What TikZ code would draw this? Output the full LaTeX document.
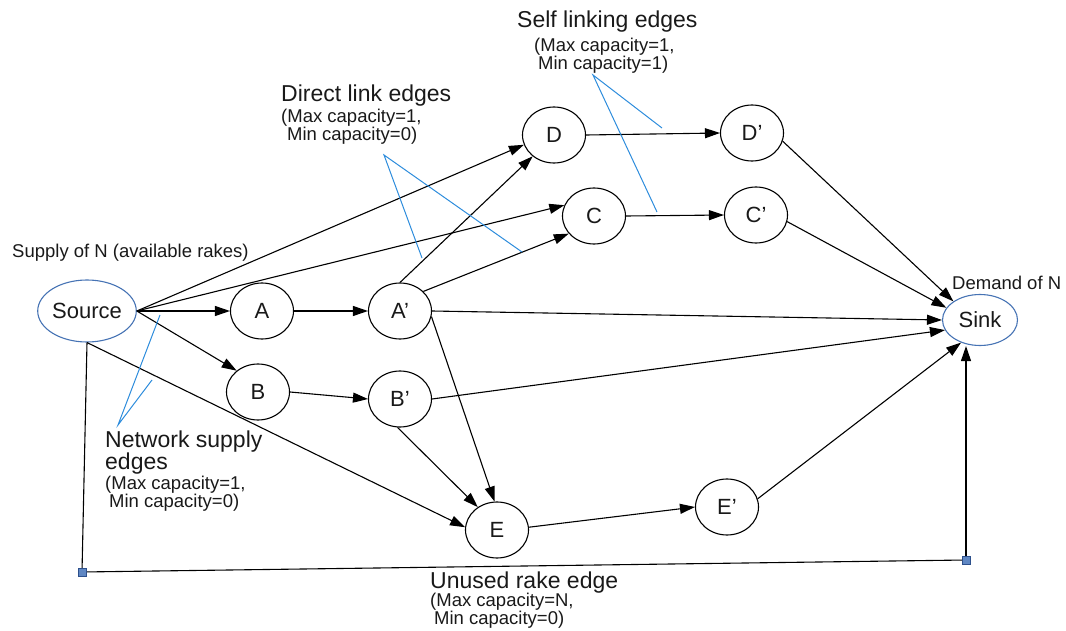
\documentclass[tikz,border=0pt]{standalone}
\usepackage{fontspec}
\setmainfont{Liberation Sans}
\usetikzlibrary{arrows.meta,shapes.geometric}
\definecolor{ink}{RGB}{25,25,25}
\definecolor{calloutblue}{RGB}{45,140,220}
\definecolor{termblue}{RGB}{70,115,180}
\definecolor{jointfill}{RGB}{95,135,195}
\definecolor{jointdraw}{RGB}{45,80,140}
\begin{document}
\begin{tikzpicture}[x=1pt,y=-1pt,
  vtx/.style={ellipse,draw=black,line width=1.1pt,inner sep=0pt,
    minimum width=63pt,minimum height=56pt,text=ink,
    font=\fontsize{22}{22}\selectfont},
  term/.style={vtx,draw=termblue},
  flow/.style={line width=1.1pt,draw=black,-{Triangle[length=15pt,width=10pt]}},
  plain/.style={line width=1.1pt,draw=black},
  callout/.style={draw=calloutblue,line width=1pt},
  head/.style={anchor=base west,inner sep=0pt,text=ink,align=left,
    font=\fontsize{23}{22}\selectfont},
  sub/.style={anchor=base west,inner sep=0pt,text=ink,align=left,
    font=\fontsize{18.5}{17}\selectfont},
  joint/.style={rectangle,draw=jointdraw,fill=jointfill,line width=0.8pt,
    minimum size=8pt,inner sep=0pt}
]
\useasboundingbox (0,0) rectangle (1066,631);

% vertices
\node[term,minimum width=80pt,minimum height=62pt] (S) at (87,311) {Source};
\node[vtx] (A)  at (262,311) {A};
\node[vtx] (Ap) at (400,311) {A'};
\node[vtx] (B)  at (258,392) {B};
\node[vtx] (Bp) at (400,399) {B'};
\node[vtx] (D)  at (554,135) {D};
\node[vtx] (C)  at (594,216) {C};
\node[vtx] (Dp) at (752,133) {D'};
\node[vtx] (Cp) at (756,215) {C'};
\node[vtx] (E)  at (497,530) {E};
\node[vtx] (Ep) at (727,507) {E'};
\node[term,minimum width=75pt,minimum height=51pt] (T) at (980,320) {Sink};

% bend points of the unused rake edge
\node[joint] (jl) at (82,572) {};
\node[joint] (jr) at (966,560) {};

% network supply edges
\draw[flow] (S.east) -- (A.west);
\draw[flow] (S.east) -- (B.135);
\draw[flow] (S.east) -- (D.198);
\draw[flow] (S.east) -- (C.160);
\draw[flow] (S.south) -- (E.175);

% direct links
\draw[flow] (A.east) -- (Ap.west);
\draw[flow] (B.east) -- (Bp.west);
\draw[flow] (Ap.north) -- (D.225);
\draw[flow] (Ap.40) -- (C.215);
\draw[flow] (Ap.east) -- (T.west);
\draw[flow] (Ap.-10) -- (E.95);
\draw[flow] (Bp.east) -- (T.196);
\draw[flow] (Bp.-95) -- (E.130);
\draw[flow] (E.5) -- (Ep.west);

% self linking edges
\draw[flow] (D.east) -- (Dp.west);
\draw[flow] (C.east) -- (Cp.west);

% into the sink
\draw[flow] (Dp.-15) -- (T.145);
\draw[flow] (Cp.-12) -- (T.160);
\draw[flow] (Ep.15) -- (T.230);

% unused rake edge
\draw[plain] (S.south) -- (jl.center);
\draw[plain] (jl.center) -- (jr.center);
\draw[flow] (jr.north) -- (jr |- T.south);
\node[joint] at (jl) {};
\node[joint] at (jr) {};

% callout lines
\coordinate (dlTip) at (384,155);
\coordinate (dlA) at (422,258);
\coordinate (dlB) at (522,252);
\draw[callout] (dlA) -- (dlTip) -- (dlB);
\coordinate (slTip) at (593,75);
\coordinate (slA) at (662,128);
\coordinate (slB) at (657,212);
\draw[callout] (slA) -- (slTip) -- (slB);
\coordinate (nsTip) at (118,425);
\coordinate (nsA) at (160,315);
\coordinate (nsB) at (152,380);
\draw[callout] (nsA) -- (nsTip) -- (nsB);

% labels
\node[sub] (supply) at (12,258) {Supply of N (available rakes)};
\node[sub] (demand) at (952,290) {Demand of N};

\node[head] (slHead) at (517,28) {Self linking edges};
\node[sub,anchor=north west] (slCap) at (534,38)
  {(Max capacity=1,\\\hspace*{4pt}Min capacity=1)};

\node[head] (dlHead) at (281,102) {Direct link edges};
\node[sub,anchor=north west] (dlCap) at (281,109)
  {(Max capacity=1,\\\hspace*{6pt}Min capacity=0)};

\node[head,anchor=north west] (nsHead) at (105,431) {Network supply\\edges};
\node[sub,anchor=north west] (nsCap) at (105,476)
  {(Max capacity=1,\\\hspace*{4pt}Min capacity=0)};

\node[head] (urHead) at (430,588) {Unused rake edge};
\node[sub,anchor=north west] (urCap) at (430,593)
  {(Max capacity=N,\\\hspace*{4pt}Min capacity=0)};
\end{tikzpicture}
\end{document}
